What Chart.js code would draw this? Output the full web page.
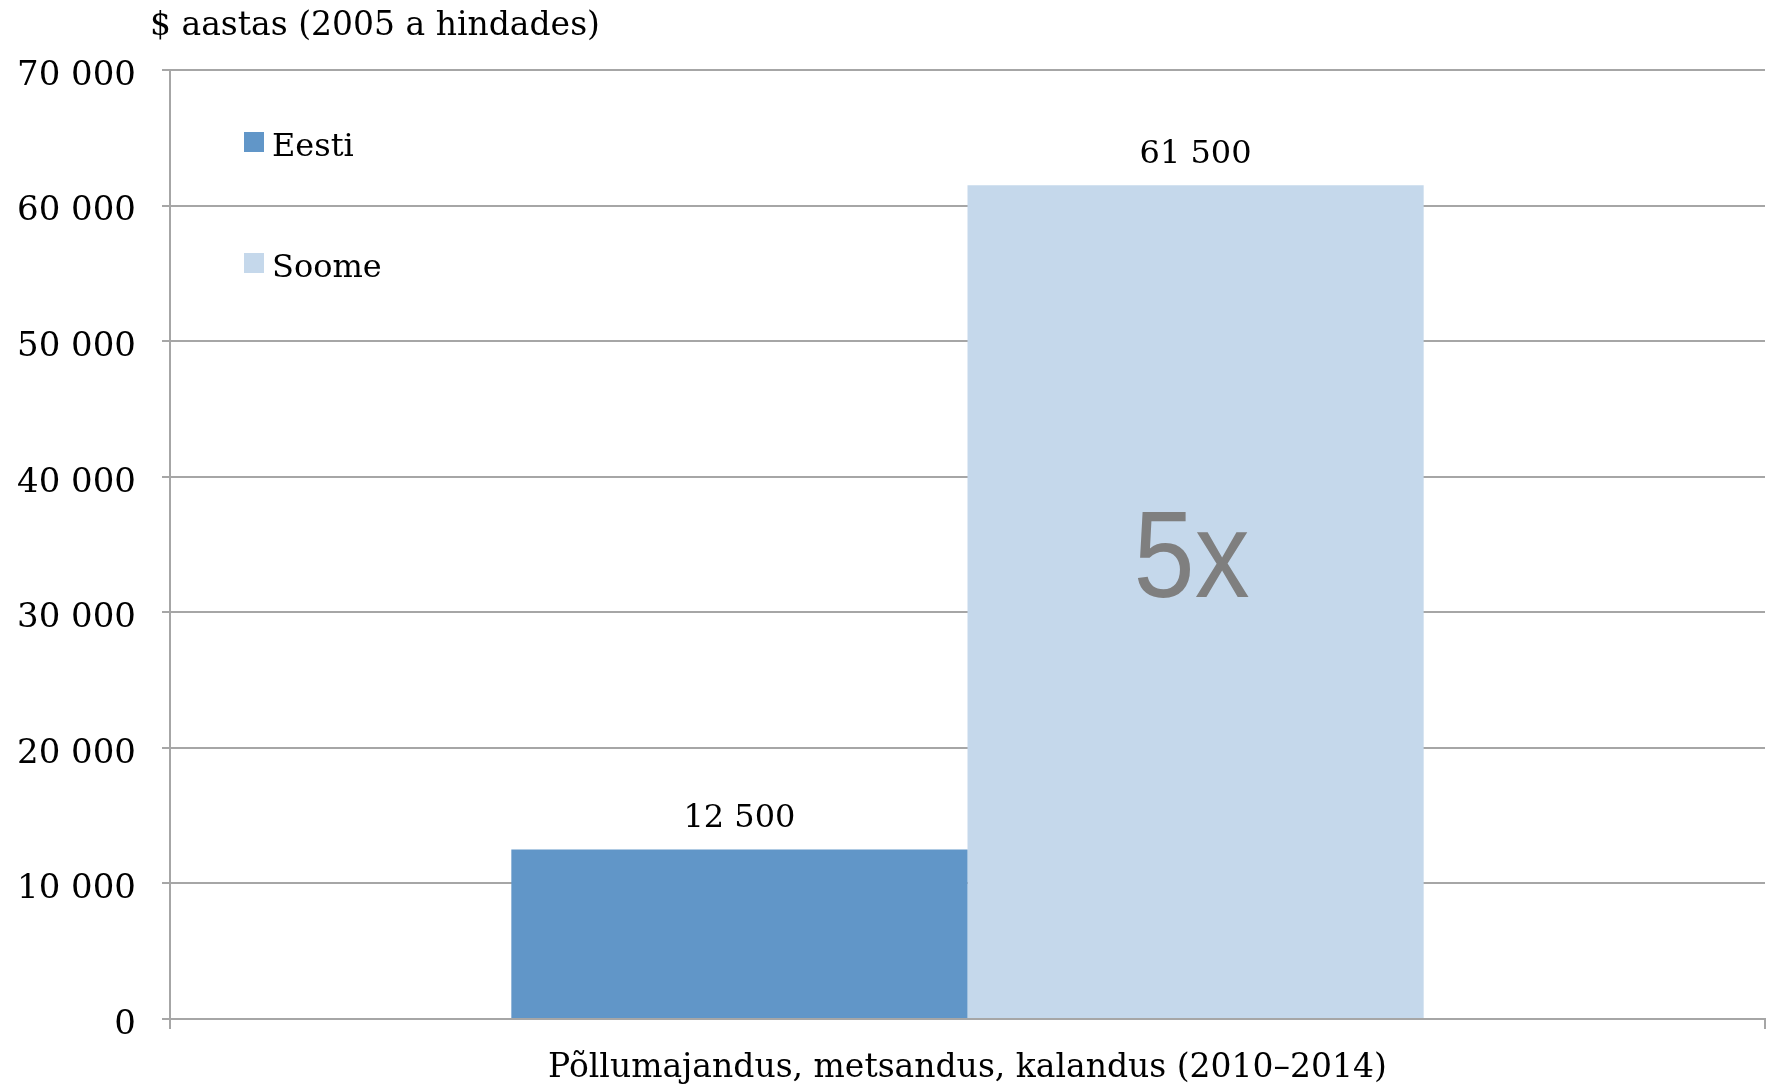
<!DOCTYPE html>
<html>
<head>
<meta charset="utf-8">
<script src="https://cdn.jsdelivr.net/npm/chart.js@4/dist/chart.umd.min.js"></script>
<style>
	html, body { margin: 0; padding: 0; background: #ffffff; }
	#wrap { width: 1774px; height: 1087px; }
</style>
</head>
<body>
<div id="wrap"><canvas id="chart" width="1774" height="1087"></canvas></div>
<script>
// chart data
const categories = ["Põllumajandus, metsandus, kalandus (2010–2014)"];
const seriesNames = ["Eesti", "Soome"];
const eestiValues = [12500];
const soomeValues = [61500];
const seriesColours = ["#6196c8", "#c5d8eb"];
const yMin = 0;
const yMax = 70000;
const yStep = 10000;
const axisTitle = "$ aastas (2005 a hindades)";
const ratioText = "5x";

const serif = "'DejaVu Serif', 'Liberation Serif', serif";
const gridColour = "#a6a6a6";

// 12500 -> "12 500"
function spaced(v) {
	return String(v).replace(/\B(?=(\d{3})+(?!\d))/g, " ");
}

// draws title, legend, value labels and the 5x note
const extras = {
	id: "extras",
	afterDatasetsDraw(chart) {
		const ctx = chart.ctx;
		const area = chart.chartArea;
		ctx.save();
		// y axis title above the plot
		ctx.fillStyle = "#000000";
		ctx.font = "33px " + serif;
		ctx.textAlign = "left";
		ctx.textBaseline = "middle";
		ctx.fillText(axisTitle, area.left - 20, 26);
		// legend inside the plot
		chart.data.datasets.forEach((ds, i) => {
			let y = area.top + 72 + i * 121;
			ctx.fillStyle = ds.backgroundColor;
			ctx.fillRect(area.left + 74, y - 10, 20, 20);
			ctx.fillStyle = "#000000";
			ctx.font = "32px " + serif;
			ctx.textBaseline = "middle";
			ctx.fillText(ds.label, area.left + 102, y + 6);
		});
		// value labels over bars
		ctx.textAlign = "center";
		chart.data.datasets.forEach((ds, i) => {
			chart.getDatasetMeta(i).data.forEach((bar, j) => {
				ctx.fillStyle = "#000000";
				ctx.font = "32px " + serif;
				ctx.textBaseline = "middle";
				ctx.fillText(spaced(ds.data[j]), bar.x, bar.y - 31);
			});
		});
		// ratio note inside the Soome bar
		let big = chart.getDatasetMeta(1).data[0];
		ctx.translate(big.x - 4, (big.y + big.base) / 2 - 5);
		ctx.scale(0.9, 1);
		ctx.fillStyle = "#7f7f7f";
		ctx.font = "122px 'Liberation Sans', Arial, sans-serif";
		ctx.textBaseline = "alphabetic";
		ctx.fillText(ratioText, 0, 0);
		ctx.restore();
	},
};

const config = {
	type: "bar",
	data: {
		labels: categories,
		datasets: [
			{
				label: seriesNames[0],
				data: eestiValues,
				backgroundColor: seriesColours[0],
			},
			{
				label: seriesNames[1],
				data: soomeValues,
				backgroundColor: seriesColours[1],
			},
		],
	},
	options: {
		responsive: false,
		animation: false,
		layout: {
			padding: { top: 70, right: 9, bottom: 0, left: 0 },
		},
		datasets: {
			bar: {
				categoryPercentage: 0.572,
				barPercentage: 1,
				borderWidth: 0,
			},
		},
		scales: {
			x: {
				grid: {
					display: true,
					drawOnChartArea: false,
					offset: true,
					color: gridColour,
					lineWidth: 2,
					tickLength: 10,
				},
				border: { display: true, color: gridColour, width: 2 },
				ticks: {
					color: "#000000",
					font: { family: serif, size: 33 },
					padding: 20,
				},
				afterFit: (scale) => {
					scale.height = 68;
				},
			},
			y: {
				min: yMin,
				max: yMax,
				ticks: {
					stepSize: yStep,
					color: "#000000",
					font: { family: serif, size: 34 },
					padding: 26,
					labelOffset: 6,
					callback: (v) => spaced(v),
				},
				grid: {
					color: gridColour,
					lineWidth: 2,
					tickLength: 8,
				},
				border: { display: true, color: gridColour, width: 2 },
				afterFit: (scale) => {
					scale.width = 170;
				},
			},
		},
		plugins: {
			legend: { display: false },
			tooltip: { enabled: false },
			title: { display: false },
		},
	},
	plugins: [extras],
};

new Chart(document.getElementById("chart"), config);
</script>
</body>
</html>
